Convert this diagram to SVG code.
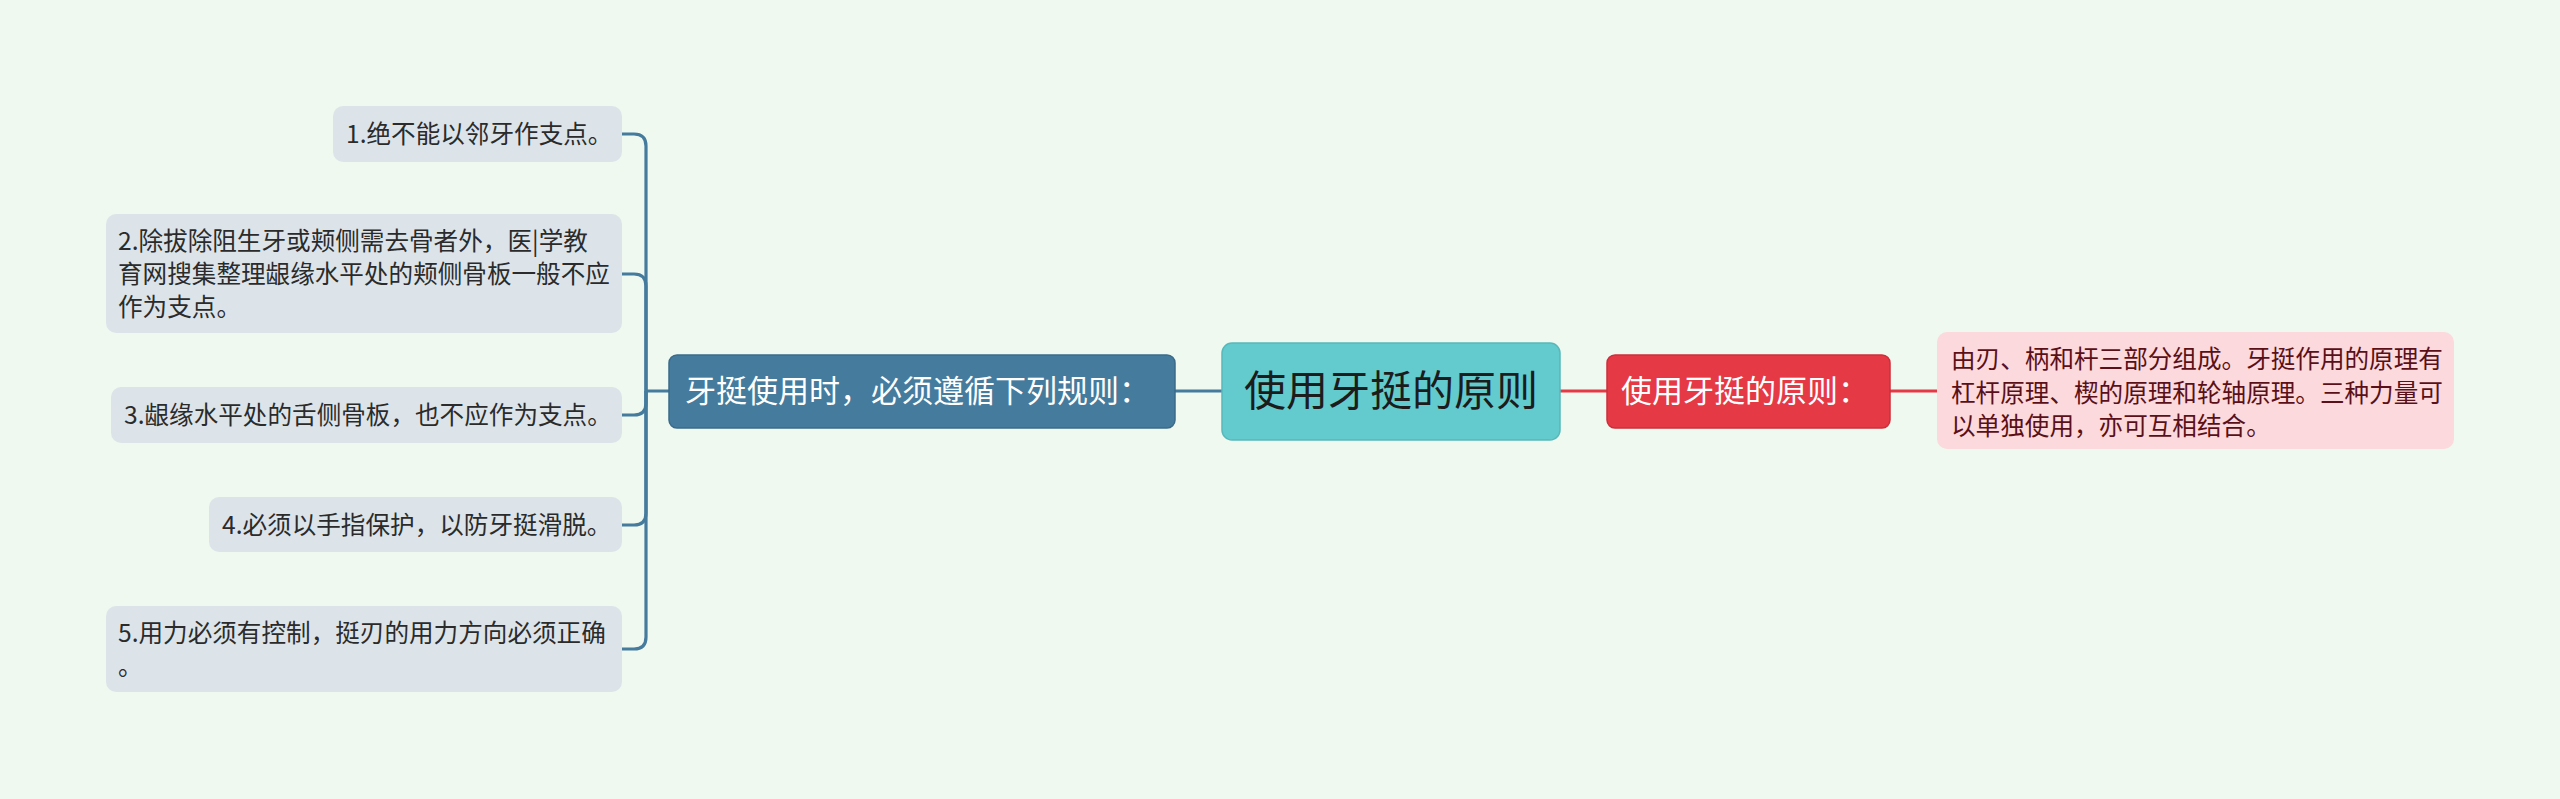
<svg xmlns="http://www.w3.org/2000/svg" width="2560" height="799" viewBox="0 0 2560 799">
<style>
.leaf{fill:#dce4ea}
.lt{font-family:"Noto Sans CJK SC","Liberation Sans",sans-serif;font-size:24.6px;fill:#2b2b2b}
.ct{font-family:"Noto Sans CJK SC","Liberation Sans",sans-serif;font-size:24.6px;fill:#5a1018}
.bl{fill:none;stroke:#457b9d;stroke-width:3.2}
.rd{fill:none;stroke:#e63946;stroke-width:3}
</style>
<rect width="2560" height="799" fill="#f0f9ef"/>
<g id="connectors">
<path class="bl" d="M1222 391 H1175"/>
<path class="bl" d="M669 391 H646 V146 Q646 134 634 134 H622"/>
<path class="bl" d="M646 391 V286 Q646 274 634 274 H622"/>
<path class="bl" d="M646 391 V403 Q646 415 634 415 H622"/>
<path class="bl" d="M646 391 V513 Q646 525 634 525 H622"/>
<path class="bl" d="M646 391 V637 Q646 649 634 649 H622"/>
<path class="rd" d="M1560 391 H1607"/>
<path class="rd" d="M1890 391 H1937"/>
</g>
<g id="root">
<rect x="1222" y="343" width="338" height="97" rx="10" fill="#63cbcd" stroke="#57b9bb" stroke-width="1.5"/>
<text x="1391" y="406" text-anchor="middle" font-family="Noto Sans CJK SC, Liberation Sans, sans-serif" font-size="42" fill="#1c1c1c">使用牙挺的原则</text>
</g>
<g id="nodeA">
<rect x="669" y="355" width="506" height="73" rx="8" fill="#457b9d" stroke="#3a6b8a" stroke-width="1.5"/>
<text x="685" y="402" font-family="Noto Sans CJK SC, Liberation Sans, sans-serif" font-size="31" fill="#ffffff">牙挺使用时，必须遵循下列规则：</text>
</g>
<g id="nodeB">
<rect x="1607" y="355" width="283" height="73" rx="8" fill="#e63946" stroke="#cc2f3c" stroke-width="1.5"/>
<text x="1621" y="402" font-family="Noto Sans CJK SC, Liberation Sans, sans-serif" font-size="31" fill="#ffffff">使用牙挺的原则：</text>
</g>
<g id="nodeC">
<rect x="1937" y="332" width="517" height="117" rx="10" fill="#fcd9dc"/>
<text class="ct" x="1951" y="368">由刃、柄和杆三部分组成。牙挺作用的原理有</text>
<text class="ct" x="1951" y="402">杠杆原理、楔的原理和轮轴原理。三种力量可</text>
<text class="ct" x="1951" y="435">以单独使用，亦可互相结合。</text>
</g>
<g id="leaf1">
<rect class="leaf" x="333" y="106" width="289" height="56" rx="10"/>
<text class="lt" x="346" y="143">1.绝不能以邻牙作支点。</text>
</g>
<g id="leaf2">
<rect class="leaf" x="106" y="214" width="516" height="119" rx="10"/>
<text class="lt" x="118" y="250">2.除拔除阻生牙或颊侧需去骨者外，医|学教</text>
<text class="lt" x="118" y="283">育网搜集整理龈缘水平处的颊侧骨板一般不应</text>
<text class="lt" x="118" y="316">作为支点。</text>
</g>
<g id="leaf3">
<rect class="leaf" x="111" y="387" width="511" height="56" rx="10"/>
<text class="lt" x="124" y="424">3.龈缘水平处的舌侧骨板，也不应作为支点。</text>
</g>
<g id="leaf4">
<rect class="leaf" x="209" y="497" width="413" height="55" rx="10"/>
<text class="lt" x="222" y="534">4.必须以手指保护，以防牙挺滑脱。</text>
</g>
<g id="leaf5">
<rect class="leaf" x="106" y="606" width="516" height="86" rx="10"/>
<text class="lt" x="118" y="642">5.用力必须有控制，挺刃的用力方向必须正确</text>
<text class="lt" x="118" y="675">。</text>
</g>
</svg>
